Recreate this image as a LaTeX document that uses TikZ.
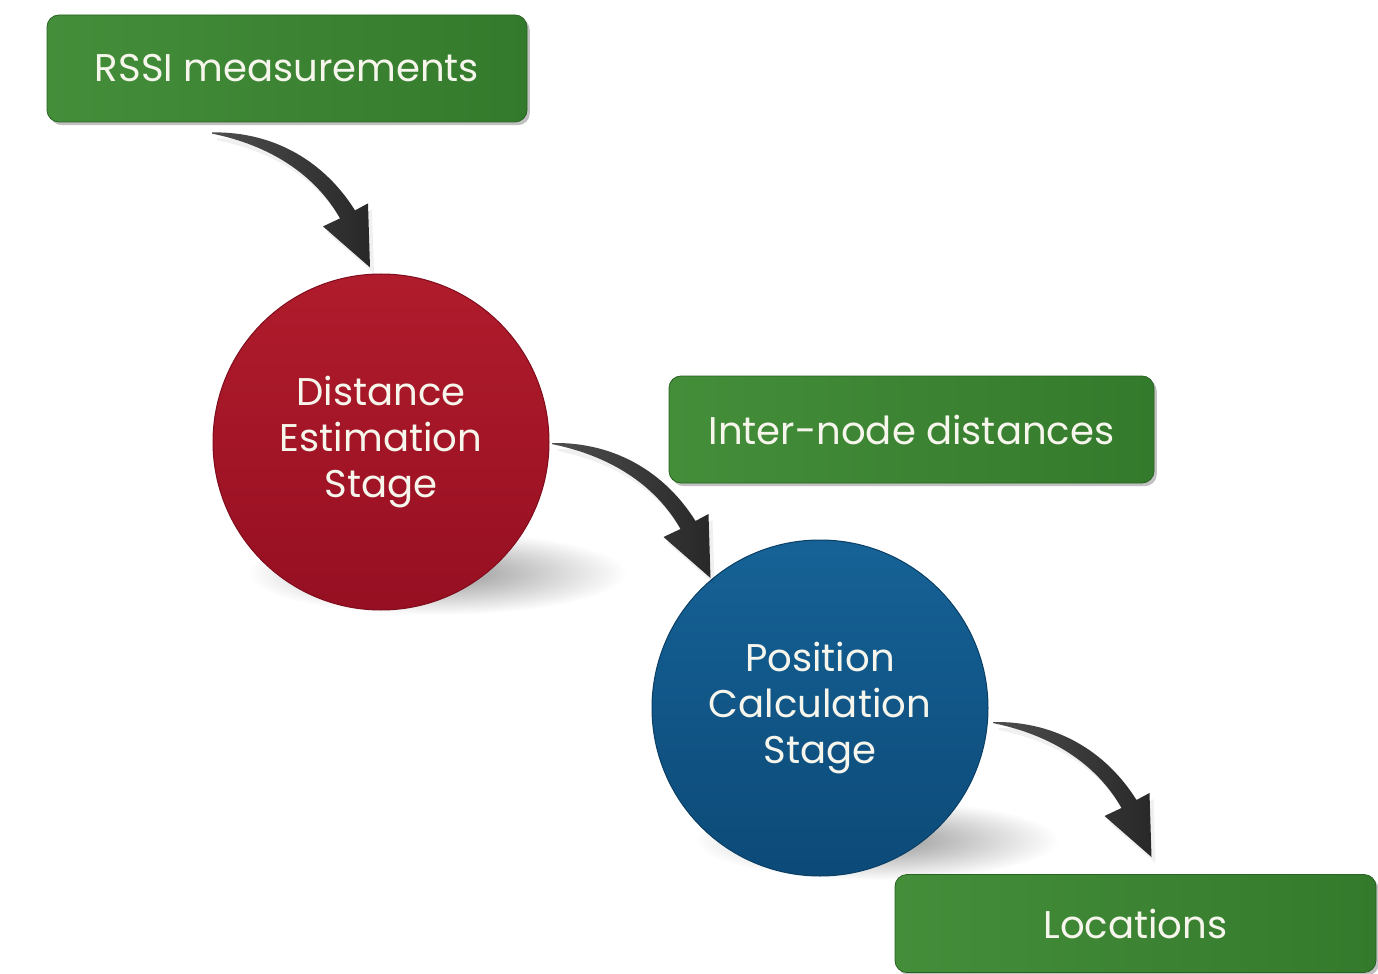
\documentclass[tikz,border=0pt]{standalone}
\usepackage{fontspec}
\setmainfont{Poppins}
\usetikzlibrary{calc,shadows}

\definecolor{boxgreenL}{RGB}{68,142,58}
\definecolor{boxgreenR}{RGB}{52,122,44}
\definecolor{stageredA}{RGB}{176,28,44}
\definecolor{stageredB}{RGB}{150,15,34}
\definecolor{stageblueA}{RGB}{22,98,150}
\definecolor{stageblueB}{RGB}{12,74,120}
\definecolor{arrowlight}{RGB}{78,78,78}
\definecolor{arrowdark}{RGB}{40,40,40}
\definecolor{labeltext}{RGB}{246,246,236}

\tikzset{
  labelfont/.style={font=\fontsize{19.3}{23}\selectfont},
  databox/.style={rectangle, rounded corners=6pt, minimum width=240pt,
    minimum height=53.5pt, inner sep=0pt, left color=boxgreenL,
    right color=boxgreenR, draw=boxgreenR!80!black, line width=0.4pt,
    text=labeltext, labelfont,
    drop shadow={shadow xshift=1.4pt, shadow yshift=-1.6pt, opacity=0.35, fill=black!70}},
  stage/.style={circle, minimum size=168pt, inner sep=0pt, align=center,
    text=labeltext, labelfont, shading angle=35, line width=0.5pt},
  redstage/.style={stage, top color=stageredA, bottom color=stageredB, draw=stageredB!85!black},
  bluestage/.style={stage, top color=stageblueA, bottom color=stageblueB, draw=stageblueB!85!black},
  floorshadow/.style={inner color=black!42, outer color=white},
  bend arrow/.pic={
    % faint cast shadow
    \fill[black, opacity=0.06] (2,6) .. controls (64,5) and (114,36) .. (144,84)
      -- (157,77) -- (159,141) -- (112,100) -- (129,92)
      .. controls (104,48) and (59,19) .. (2,8) -- cycle;
    % tapered curved body with head
    \shade[left color=arrowlight, right color=arrowdark]
      (-3,0) .. controls (60,-1) and (110,30) .. (140,78)
      -- (153,71) -- (155,135) -- (108,94) -- (125,86)
      .. controls (100,42) and (55,13) .. (-3,1.2) -- cycle;
  }
}

\begin{document}
\begin{tikzpicture}[x=0.5pt,y=-0.5pt]
\useasboundingbox (0,0) rectangle (1378,974);

% soft floor shadows below the two stages
\shade[floorshadow] (437,573) ellipse (190 and 42);
\shade[floorshadow] (877,840) ellipse (182 and 40);

% stages
\node[redstage]  (dist) at (381,442) {\raisebox{-2pt}{\begin{tabular}{c}Distance\\Estimation\\Stage\end{tabular}}};
\node[bluestage] (pos)  at (820,708) {\raisebox{-2pt}{\begin{tabular}{c}Position\\Calculation\\Stage\end{tabular}}};

% data boxes
\node[databox] (rssi)  at (287,68.5)    {RSSI measurements};
\node[databox, minimum width=242.5pt] (inter) at (911.5,429.5) {Inter-node distances};
\node[databox, minimum width=240.5pt, minimum height=49pt] (loc) at (1135.5,923.5) {Locations};

% curved arrows between the steps
\coordinate (t1) at ($(rssi.south)+(-72,10)$);
\coordinate (t2) at ($(dist.east)+(6,1)$);
\coordinate (t3) at ($(pos.east)+(8,14)$);
\pic at (t1) {bend arrow};
\pic at (t2) {bend arrow};
\pic at (t3) {bend arrow};
\end{tikzpicture}
\end{document}
